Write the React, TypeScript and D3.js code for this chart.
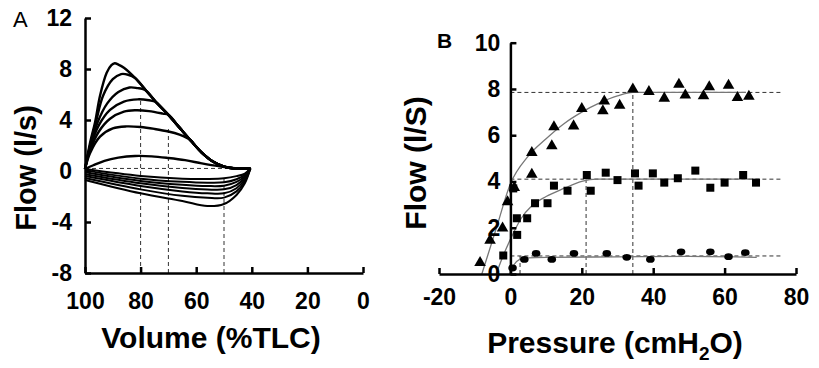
import React, { useEffect, useRef } from 'react'
import * as d3 from 'd3'

// Panel A: flow-volume loops, [volume %TLC, flow l/s]
const envelope = [
  [86, 8.1], [82, 7.3], [78, 6.3], [74, 5.3], [70, 4.4], [66, 3.4],
  [62, 2.4], [58, 1.45], [54, 0.75], [50, 0.35], [46, 0.2], [40.5, 0.2]
]
const loopRise = [
  [[100, 0.15], [98.2, 2.2], [96.4, 3.8], [94.6, 5.9], [92.2, 7.7], [90.5, 8.3], [89.3, 8.45], [88, 8.35]],
  [[100, 0.15], [98.2, 2.0], [96, 3.9], [93.5, 5.9], [90, 7.2], [87, 7.6], [84.5, 7.55]],
  [[100, 0.15], [98.2, 1.9], [95.5, 3.8], [92, 5.3], [88, 6.2], [84, 6.55], [81, 6.5], [79.5, 6.45]],
  [[100, 0.15], [98.2, 1.8], [95, 3.6], [91, 4.8], [86, 5.45], [81, 5.62], [77, 5.55], [75, 5.45]],
  [[100, 0.15], [98.2, 1.6], [95, 3.1], [91, 4.1], [86, 4.65], [82, 4.76], [77, 4.7], [72, 4.5]],
  [[100, 0.15], [98.2, 1.4], [94.6, 2.7], [90, 3.35], [85, 3.5], [80, 3.45], [75, 3.3], [70, 3.1], [66, 2.85], [63, 2.55]],
  [[100, 0.15], [97, 0.45], [93, 0.8], [88, 1.05], [82, 1.18], [76, 1.15], [70, 1.02], [64, 0.85], [58, 0.6], [52, 0.38], [46, 0.22], [40.5, 0.2]]
]
const inspVolumes = [100, 80, 65, 56, 50, 45.5, 42.5, 40.5]
const inspFlows = [
  [0.15, -0.39, -0.6, -0.62, -0.57, -0.4, -0.2, 0.2],
  [0.05, -0.6, -0.85, -0.92, -0.89, -0.65, -0.3, 0.2],
  [-0.1, -0.78, -1.08, -1.18, -1.15, -0.85, -0.4, 0.2],
  [-0.25, -0.96, -1.33, -1.45, -1.44, -1.1, -0.5, 0.2],
  [-0.4, -1.18, -1.6, -1.75, -1.75, -1.35, -0.65, 0.2],
  [-0.55, -1.44, -1.95, -2.1, -2.09, -1.6, -0.8, 0.2],
  [-0.7, -1.75, -2.35, -2.75, -2.59, -1.88, -0.96, 0.2]
]
const aVolTicks = [100, 80, 60, 40, 20, 0]
const aFlowTicks = [-8, -4, 0, 4, 8, 12]
const aVerticals = [[80, 5.55], [70, 3.5], [50, -0.4]]
const aZeroLine = [[100, 0.2], [41, 0.2]]

// Panel B: flow vs pressure, [pressure cmH2O, flow l/s]
const triangles = [
  [-8.5, 0.53], [-5.7, 1.5], [-2.2, 2.02], [-0.8, 3.16], [1.1, 3.78], [6.0, 4.35], [6.0, 5.29],
  [11.6, 5.58], [12.2, 6.4], [17.7, 6.44], [20, 7.19], [25.9, 7.09], [26.3, 7.52], [30.6, 7.33],
  [34.3, 8.03], [38.8, 7.93], [43.1, 7.64], [47.2, 8.24], [49, 7.77], [54.1, 7.74], [55.7, 8.13],
  [61.1, 8.2], [63.6, 7.67], [66.8, 7.72]
]
const squares = [
  [-2, 0.8], [1.9, 1.69], [1.8, 2.41], [4.7, 2.41], [0.8, 3.7], [6.9, 3.06], [10.4, 3.06],
  [12.2, 3.82], [16, 3.6], [21.4, 4.28], [22.5, 3.6], [26.7, 4.38], [30, 4.06], [34.9, 4.35],
  [35.9, 3.82], [39.9, 4.35], [43.1, 3.95], [46.9, 4.14], [51.8, 4.47], [56, 3.73], [60, 3.95],
  [65.2, 4.28], [68.8, 3.95]
]
const circles = [
  [0.6, 0.26], [3.9, 0.63], [7.2, 0.89], [11.6, 0.63], [17.8, 0.89], [27, 0.89], [32.6, 0.72],
  [39.2, 0.63], [47.8, 0.96], [56, 0.96], [61.1, 0.75], [65.8, 0.92]
]
const triangleFit = [
  [-8, 0], [-4, 1.95], [0, 3.9], [5, 5.1], [10, 5.85], [15, 6.5], [20, 7.0], [25, 7.4],
  [30, 7.7], [34.3, 7.85], [66, 7.85]
]
const squareFit = [
  [-4, 0], [-2, 0.8], [0, 1.5], [3, 2.4], [6, 2.95], [10, 3.35], [15, 3.7], [20, 4.0],
  [24, 4.1], [68, 4.1]
]
const circleFit = [[0, 0.1], [1, 0.4], [2.5, 0.62], [5, 0.7], [10, 0.72], [30, 0.74], [50, 0.76], [69, 0.72]]
const bPressTicks = [-20, 0, 20, 40, 60, 80]
const bFlowTicks = [0, 2, 4, 6, 8, 10]
const bPlateaus = [[7.85, 34.3], [4.1, 21.2], [0.78, 2.7]]

const FONT = "'Liberation Sans', Arial, sans-serif"

const App = () => {
  const svgRef = useRef(null)

  useEffect(() => {
    const svg = d3.select(svgRef.current)
    svg.selectAll('*').remove()

    const xA = d3.scaleLinear().domain([100, 0]).range([85, 363])
    const yA = d3.scaleLinear().domain([-8, 12]).range([273, 18])
    const xB = d3.scaleLinear().domain([-20, 80]).range([439, 796])
    const yB = d3.scaleLinear().domain([0, 10]).range([274, 42.7])

    // plain hyphen for negatives, like the original figure
    const fmt = d => String(d)

    const styleAxis = (g, size) => {
      g.select('.domain').attr('stroke', '#000').attr('stroke-width', 2.5)
      g.selectAll('.tick line').attr('stroke', '#000').attr('stroke-width', 2.5)
      g.selectAll('.tick text')
        .attr('fill', '#000')
        .style('font-family', FONT)
        .style('font-weight', 'bold')
        .style('font-size', `${size}px`)
    }

    // ---- panel A ----
    const gA = svg.append('g')
    const dash = g => g.attr('fill', 'none').attr('stroke', '#333').attr('stroke-width', 1).attr('stroke-dasharray', '4,3')

    aVerticals.forEach(([v, top]) => {
      gA.append('line')
        .attr('x1', xA(v)).attr('x2', xA(v))
        .attr('y1', yA(-8)).attr('y2', yA(top))
        .call(dash)
    })
    gA.append('line')
      .attr('x1', xA(aZeroLine[0][0])).attr('x2', xA(aZeroLine[1][0]))
      .attr('y1', yA(aZeroLine[0][1])).attr('y2', yA(aZeroLine[1][1]))
      .call(dash)

    const lineA = d3.line().x(d => xA(d[0])).y(d => yA(d[1])).curve(d3.curveCatmullRom.alpha(0.5))
    loopRise.forEach((rise, i) => {
      const last = rise[rise.length - 1][0]
      const pts = i === loopRise.length - 1 ? rise : rise.concat(envelope.filter(p => p[0] < last))
      gA.append('path').attr('d', lineA(pts))
        .attr('fill', 'none').attr('stroke', '#000').attr('stroke-width', 2.4).attr('stroke-linejoin', 'round')
    })
    inspFlows.forEach(row => {
      const pts = row.map((f, j) => [inspVolumes[j], f])
      gA.append('path').attr('d', lineA(pts))
        .attr('fill', 'none').attr('stroke', '#000').attr('stroke-width', 2).attr('stroke-linejoin', 'round')
    })

    gA.append('g')
      .attr('transform', `translate(0,${yA(-8)})`)
      .call(d3.axisBottom(xA).tickValues(aVolTicks).tickFormat(fmt).tickSize(-6).tickSizeOuter(0).tickPadding(20))
      .call(g => styleAxis(g, 23))
    gA.append('g')
      .attr('transform', `translate(${xA(100)},0)`)
      .call(d3.axisLeft(yA).tickValues(aFlowTicks).tickFormat(fmt).tickSize(-6).tickSizeOuter(0).tickPadding(13))
      .call(g => styleAxis(g, 23))

    gA.append('text').attr('x', 211).attr('y', 348).attr('text-anchor', 'middle')
      .style('font-family', FONT).style('font-weight', 'bold').style('font-size', '30px')
      .text('Volume (%TLC)')
    gA.append('text').attr('transform', 'translate(36,168) rotate(-90)').attr('text-anchor', 'middle')
      .style('font-family', FONT).style('font-weight', 'bold').style('font-size', '29px')
      .text('Flow (l/s)')
    gA.append('text').attr('x', 13).attr('y', 27)
      .style('font-family', FONT).style('font-size', '22px')
      .text('A')

    // ---- panel B ----
    const gB = svg.append('g')
    bPlateaus.forEach(([f, p]) => {
      gB.append('line')
        .attr('x1', xB(0)).attr('x2', xB(76))
        .attr('y1', yB(f)).attr('y2', yB(f))
        .call(dash)
      gB.append('line')
        .attr('x1', xB(p)).attr('x2', xB(p))
        .attr('y1', yB(0)).attr('y2', yB(f))
        .call(dash)
    })

    const lineB = d3.line().x(d => xB(d[0])).y(d => yB(d[1])).curve(d3.curveMonotoneX)
    ;[triangleFit, squareFit, circleFit].forEach(fit => {
      gB.append('path').attr('d', lineB(fit))
        .attr('fill', 'none').attr('stroke', '#777').attr('stroke-width', 1.3)
    })

    gB.append('g')
      .attr('transform', `translate(0,${yB(0)})`)
      .call(d3.axisBottom(xB).tickValues(bPressTicks).tickFormat(fmt).tickSize(-6).tickSizeOuter(0).tickPadding(15))
      .call(g => styleAxis(g, 23))
    gB.append('g')
      .attr('transform', `translate(${xB(0)},0)`)
      .call(d3.axisLeft(yB).tickValues(bFlowTicks).tickFormat(fmt).tickSize(-6).tickSizeOuter(0).tickPadding(10))
      .call(g => styleAxis(g, 23))

    const tri = d3.symbol().type(d3.symbolTriangle).size(58)
    gB.selectAll('.tri').data(triangles).join('path')
      .attr('class', 'tri')
      .attr('d', tri)
      .attr('transform', d => `translate(${xB(d[0])},${yB(d[1]) + 1})`)
      .attr('fill', '#000')
    gB.selectAll('.sq').data(squares).join('rect')
      .attr('class', 'sq')
      .attr('x', d => xB(d[0]) - 4).attr('y', d => yB(d[1]) - 4)
      .attr('width', 8).attr('height', 8)
      .attr('fill', '#000')
    gB.selectAll('.dot').data(circles).join('ellipse')
      .attr('class', 'dot')
      .attr('cx', d => xB(d[0])).attr('cy', d => yB(d[1]))
      .attr('rx', 4.3).attr('ry', 3.4)
      .attr('fill', '#000')

    const pt = gB.append('text').attr('x', 615).attr('y', 353).attr('text-anchor', 'middle')
      .style('font-family', FONT).style('font-weight', 'bold').style('font-size', '30px')
    pt.append('tspan').text('Pressure (cmH')
    pt.append('tspan').attr('dy', 7).style('font-size', '19px').text('2')
    pt.append('tspan').attr('dy', -7).text('O)')
    gB.append('text').attr('transform', 'translate(426,163) rotate(-90)').attr('text-anchor', 'middle')
      .style('font-family', FONT).style('font-weight', 'bold').style('font-size', '30px')
      .text('Flow (l/S)')
    gB.append('text').attr('x', 437).attr('y', 48)
      .style('font-family', FONT).style('font-weight', 'bold').style('font-size', '21px')
      .text('B')
  }, [])

  return (
    <svg ref={svgRef} width={819} height={368}
      style={{ position: 'absolute', left: 0, top: 0, background: '#fff' }} />
  )
}

export default App
